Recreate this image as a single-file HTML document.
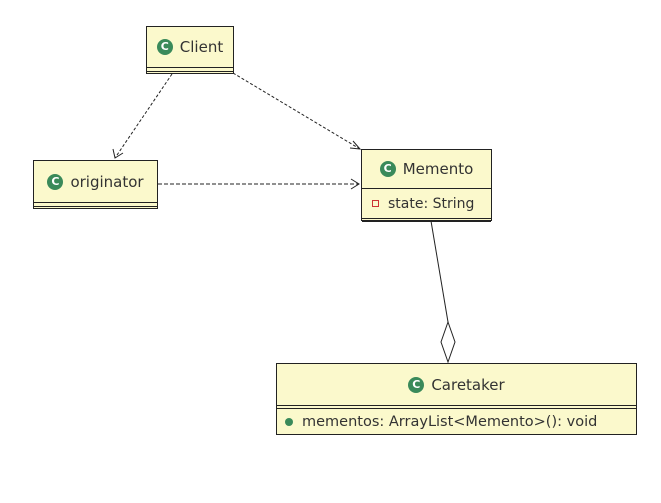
<!DOCTYPE html>
<html><head><style>
body{margin:0;background:#fff;width:661px;height:503px;overflow:hidden;font-family:"DejaVu Sans","Liberation Sans",sans-serif;}
.b{position:absolute;background:#fbf9cc;border:1.5px solid #222;box-sizing:border-box;font-size:15px;color:#333;}
.h{display:flex;align-items:center;justify-content:center;}
.c{display:inline-block;width:16px;height:16px;border-radius:50%;background:#3a8a5a;color:#fff;font-size:11px;font-weight:bold;line-height:16px;text-align:center;margin-right:7px;}
.sep{border-top:1px solid #222;}
</style></head><body>
<svg width="661" height="503" style="position:absolute;left:0;top:0">
<g stroke="#222" fill="none" stroke-width="1">
<line x1="172" y1="74" x2="115" y2="158" stroke-dasharray="3,2"/>
<polyline points="113,149 115,158 123,153"/>
<line x1="233" y1="73" x2="360" y2="149" stroke-dasharray="3,2"/>
<polyline points="350,148 360,149 353,141"/>
<line x1="158" y1="184" x2="359" y2="184" stroke-dasharray="4,2"/>
<polyline points="351,179 359,184 351,189"/>
<line x1="431" y1="221" x2="448" y2="322"/>
<polygon points="448,322 455,342 448,362 441,342" fill="#fff"/>
</g></svg>
<div class="b" style="left:146px;top:26px;width:88px;height:48px">
<div class="h" style="height:40px"><span class="c">C</span>Client</div>
<div class="sep" style="height:3px"></div><div class="sep"></div></div>
<div class="b" style="left:33px;top:160px;width:125px;height:49px">
<div class="h" style="height:41px"><span class="c">C</span>originator</div>
<div class="sep" style="height:3px"></div><div class="sep"></div></div>
<div class="b" style="left:361px;top:149px;width:131px;height:72px">
<div class="h" style="height:38px"><span class="c">C</span>Memento</div>
<div class="sep" style="height:29px;display:flex;align-items:center;padding-left:10px;font-size:14px"><span style="display:inline-block;width:5px;height:5px;border:1px solid #c33;margin-right:9px"></span>state: String</div>
<div class="sep" style="height:2px"></div><div class="sep"></div></div>
<div class="b" style="left:276px;top:363px;width:361px;height:72px">
<div class="h" style="height:41px"><span class="c">C</span>Caretaker</div>
<div class="sep" style="height:2px"></div>
<div class="sep" style="height:26px;display:flex;align-items:center;padding-left:8px;font-size:14.5px"><span style="display:inline-block;width:8px;height:8px;border-radius:50%;background:#3a8a5a;margin-right:9px"></span>mementos: ArrayList&lt;Memento&gt;(): void</div></div>
</body></html>
